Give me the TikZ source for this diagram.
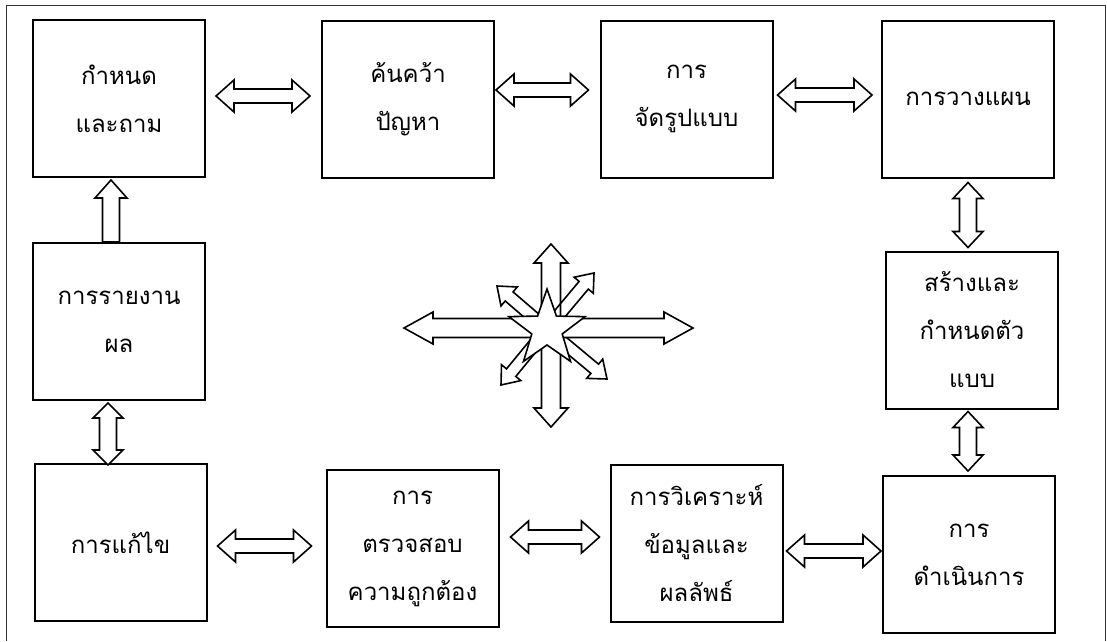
\documentclass[tikz,border=0pt]{standalone}
\usepackage{fontspec}
\newfontfamily\thaifont[Script=Thai]{Loma}
\usetikzlibrary{calc,shapes.geometric}
\tikzset{
  box/.style={draw=black, line width=2pt, minimum width=172pt, minimum height=157pt, inner sep=0pt,
    align=center, font=\thaifont\fontsize{24}{48}\selectfont},
  blockarrow/.style={draw=black, line width=1.6pt, fill=white, line join=miter},
  frame/.style={draw=black!80, line width=0.8pt}
}
% double block arrow: [style]{start}{end}{shaft half}{head half}{head length}
\newcommand{\blockdbl}[6][]{%
  \coordinate (bA) at #2; \coordinate (bB) at #3;
  \coordinate (bA1) at ($(bA)!#6!(bB)$);
  \coordinate (bB1) at ($(bB)!#6!(bA)$);
  \draw[blockarrow,#1] (bA) -- ($(bA1)!#5!90:(bB)$) -- ($(bA1)!#4!90:(bB)$)
    -- ($(bB1)!#4!90:(bB)$) -- ($(bB1)!#5!90:(bB)$) -- (bB)
    -- ($(bB1)!#5!-90:(bB)$) -- ($(bB1)!#4!-90:(bB)$)
    -- ($(bA1)!#4!-90:(bB)$) -- ($(bA1)!#5!-90:(bB)$) -- cycle;}
% single block arrow: [style]{tail}{tip}{shaft half}{head half}{head length}
\newcommand{\blocksgl}[6][]{%
  \coordinate (bA) at #2; \coordinate (bB) at #3;
  \coordinate (bB1) at ($(bB)!#6!(bA)$);
  \draw[blockarrow,#1] ($(bA)!#4!90:(bB)$)
    -- ($(bB1)!#4!90:(bB)$) -- ($(bB1)!#5!90:(bB)$) -- (bB)
    -- ($(bB1)!#5!-90:(bB)$) -- ($(bB1)!#4!-90:(bB)$)
    -- ($(bA)!#4!-90:(bB)$) -- cycle;}
\begin{document}
\begin{tikzpicture}[x=1pt,y=-1pt]
\useasboundingbox (0,0) rectangle (1107,641);
\fill[white] (0,0) rectangle (1107,641);
% outer frame
\draw[frame] (6,641) -- (6,5) -- (1105,5) -- (1105,641);

% boxes
\node[box] (b1) at (119,98.5) {กำหนด\\และถาม};
\node[box] (b2) at (408,99) {ค้นคว้า\\ปัญหา};
\node[box] (b3) at (686.5,99) {การ\\จัดรูปแบบ};
\node[box] (b4) at (968,99) {การวางแผน};
\node[box] (b5) at (119,321.5) {การรายงาน\\ผล};
\node[box] (b6) at (972,330) {สร้างและ\\กำหนดตัว\\แบบ};
\node[box] (b7) at (969,554.5) {การ\\ดำเนินการ};
\node[box] (b8) at (120.5,542.5) {การแก้ไข};
\node[box] (b9) at (412.5,548.5) {การ\\ตรวจสอบ\\ความถูกต้อง};
\node[box] (b10) at (696.5,543.5) {การวิเคราะห์\\ข้อมูลและ\\ผลลัพธ์};

% connectors between boxes
\blockdbl{($(b1.east)+(10,-2.5)$)}{($(b2.west)+(-11,-3)$)}{7pt}{16pt}{18pt}
\blockdbl{($(b2.east)+(1,-9)$)}{($(b3.west)+(-11,-9)$)}{7pt}{16pt}{18pt}
\blockdbl{($(b3.east)+(4,-4)$)}{($(b4.west)+(-9,-4)$)}{7pt}{16pt}{18pt}
\blockdbl{($(b4.south)+(0,4)$)}{($(b6.north)+(-4,-3)$)}{8.5pt}{15pt}{16pt}
\blockdbl{($(b6.south)+(-4,2)$)}{($(b7.north)+(-1,-4)$)}{8.5pt}{15pt}{16pt}
\blockdbl{($(b10.east)+(3,7.5)$)}{($(b7.west)+(-1,-3.5)$)}{7pt}{16pt}{18pt}
\blockdbl{($(b9.east)+(11,-11.5)$)}{($(b10.west)+(-10,-6.5)$)}{7pt}{16pt}{18pt}
\blockdbl{($(b8.east)+(10,3.5)$)}{($(b9.west)+(-14,-2.5)$)}{7pt}{16pt}{18pt}
\blockdbl{($(b5.south)+(-11,2)$)}{($(b8.north)+(-12.5,2)$)}{8.5pt}{15pt}{15pt}
\blocksgl{($(b5.north)+(-8,0)$)}{($(b1.south)+(-8,2)$)}{8.5pt}{16pt}{18pt}

% central star with arrows
\coordinate (c) at (547,329);
\coordinate (ne) at (594,273);
\coordinate (nw) at (497,286);
\coordinate (sw) at (501,385);
\coordinate (se) at (607,379);
\coordinate (hl) at (404,328);
\coordinate (hr) at (693,328);
\coordinate (vt) at (551,244);
\coordinate (vb) at (551,427);
\blocksgl{(c)}{(ne)}{6pt}{12.5pt}{16pt}
\blocksgl{(c)}{(nw)}{6pt}{12.5pt}{16pt}
\blocksgl{(c)}{(sw)}{6pt}{12.5pt}{16pt}
\blocksgl{(c)}{(se)}{6pt}{12.5pt}{16pt}
\blockdbl[fill=none]{(vt)}{(vb)}{9.5pt}{17pt}{19pt}
\blockdbl{(hl)}{(hr)}{9.5pt}{16pt}{29pt}
\node[star, star points=5, star point ratio=2.5, minimum size=80pt, inner sep=0pt,
  draw=black, line width=1.6pt, fill=white] (st) at (c) {};
\end{tikzpicture}
\end{document}
